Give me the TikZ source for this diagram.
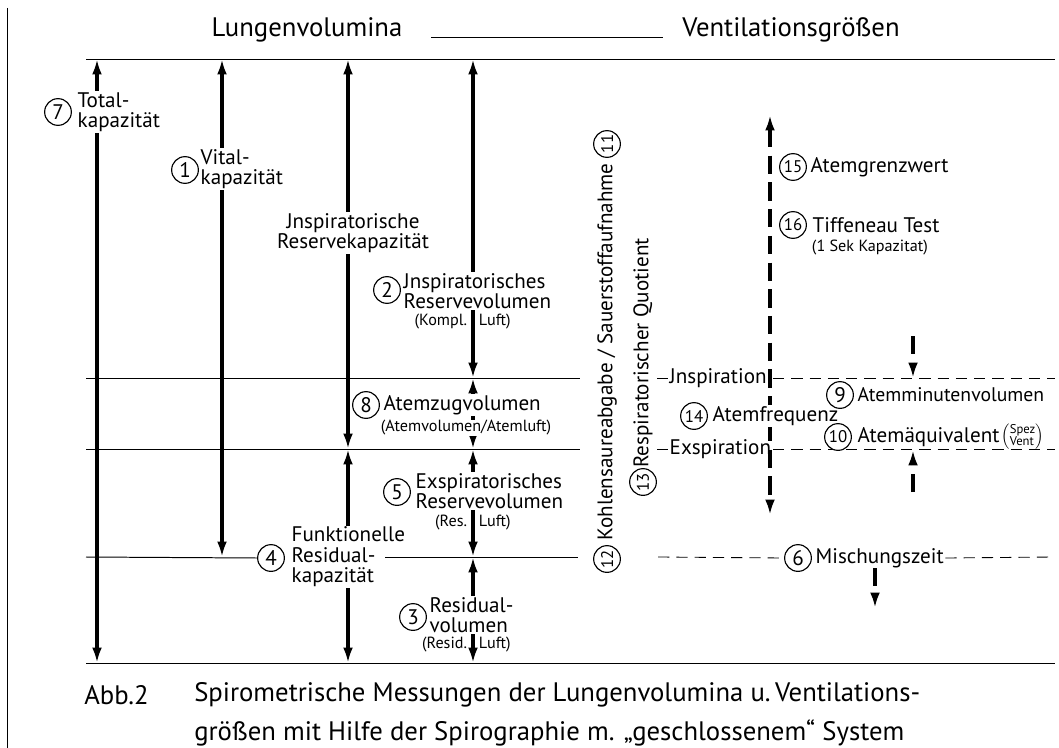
\documentclass[tikz,border=0pt]{standalone}
\usepackage{fontspec}
\setmainfont{PT Sans}
\usetikzlibrary{arrows.meta}

\newcommand\hdfont{\fontsize{19}{21}\selectfont}
\newcommand\lblfont{\fontsize{15}{14.5}\selectfont}
\newcommand\lblsmall{\fontsize{11.5}{12}\selectfont}
\newcommand\capfont{\fontsize{19}{21}\selectfont}

\tikzset{
  thinline/.style={line width=0.7pt},
  bigarrow/.style={line width=2.2pt, {Latex[length=11pt,width=7pt]}-{Latex[length=11pt,width=7pt]}},
  dasharrow/.style={line width=2.2pt, dash pattern=on 13pt off 6pt},
  thindash/.style={line width=0.6pt, dash pattern=on 8pt off 5pt},
  lab/.style={fill=white, inner sep=1pt, align=left, font=\lblfont},
  labsmall/.style={inner sep=0.5pt, font=\lblsmall},
  nr/.style={circle, draw, line width=0.8pt, fill=white, inner sep=0pt,
    minimum size=19pt, font=\fontsize{15}{15}\selectfont},
  nrtwo/.style={nr, font=\fontsize{12}{12}\selectfont}
}

\begin{document}
\begin{tikzpicture}[x=0.025cm, y=-0.025cm]
\useasboundingbox (0,0) rectangle (1059,748);

% Draw frame and headings.
\coordinate (frame-t) at (7,8);
\coordinate (frame-b) at (7,748);
\draw[thinline] (frame-t) -- (frame-b);
\node[font=\hdfont] (hvol) at (307,30) {Lungenvolumina};
\node[font=\hdfont] (hvent) at (791,30) {Ventilationsgrößen};
\draw[thinline] ([xshift=17pt,yshift=-5pt]hvol.east) -- ([xshift=-10pt,yshift=-5pt]hvent.west);

% Draw volume levels.
\foreach \n/\y/\r in {top/59/1055, insp/378/580, exsp/449/580, bot/663/1055}
{
    \coordinate (\n-l) at (86,\y);
    \coordinate (\n-r) at (\r,\y);
    \draw[thinline] (\n-l) -- (\n-r);
}

% Draw volume arrows.
\foreach \n/\x/\a/\b in {tot/97/59/663, vit/222/59/557, irk/348/59/449, frk/348/449/663,
                         irv/473/59/378, tv/473/378/449, erv/473/449/557, rv/473/557/663}
{
    \coordinate (\n-t) at (\x,\a);
    \coordinate (\n-b) at (\x,\b);
    \draw[bigarrow] (\n-t) -- (\n-b);
}

% Labels of the volumes.
\node[lab, anchor=west] (l7) at (76,112) {Total-\\kapazität};
\node[nr] (n7) at (58,112) {7};
\node[lab, anchor=west] (l1) at (199,169) {Vital-\\kapazität};
\node[nr] (n1) at (185,170) {1};
\node[lab, align=center] (lirk) at (353,233) {Jnspiratorische\\Reservekapazität};
\node[lab, anchor=west] (l2) at (402,291) {Jnspiratorisches\\Reservevolumen};
\node[nr] (n2) at (387,290) {2};
\node[labsmall, anchor=east] (l2a) at (468,322) {(Kompl.};
\node[labsmall, anchor=west] (l2b) at (478,322) {Luft)};
\node[lab, anchor=west] (l8) at (382,405) {Atemzugvolumen};
\node[nr] (n8) at (366,405) {8};
\node[labsmall, fill=white] (l8a) at (466,428) {(Atemvolumen/Atemluft)};
\node[lab, anchor=west] (l5) at (414,491) {Exspiratorisches\\Reservevolumen};
\node[nr] (n5) at (397,492) {5};
\node[labsmall, anchor=east] (l5a) at (468,523) {(Res.};
\node[labsmall, anchor=west] (l5b) at (478,523) {Luft)};
\node[lab, anchor=west] (l4) at (290,557) {Funktionelle\\Residual-\\kapazität};
\node[nr] (n4) at (271,558) {4};
\node[lab, anchor=west] (l3) at (428,615) {Residual-\\volumen};
\node[nr] (n3) at (413,617) {3};
\node[labsmall, anchor=east] (l3a) at (468,645) {(Resid.};
\node[labsmall, anchor=west] (l3b) at (478,645) {Luft)};

% Level of the functional residual capacity, broken by its label.
\coordinate (frc-l) at (86,557);
\coordinate (frc-m) at (385,557);
\coordinate (frc-r) at (578,557);
\draw[thinline] (frc-l) -- (n4.west);
\draw[thinline] (frc-m) -- (frc-r);

% Rotated labels of the gas exchange.
\node[lab, rotate=90] (co2) at (607,352) {Kohlensaureabgabe / Sauerstoffaufnahme};
\node[nrtwo, rotate=90] (n12) at (607,559) {12};
\node[nrtwo, rotate=90] (n11) at (607,144) {11};
\node[lab, rotate=90] (rq) at (643,353) {Respiratorischer Quotient};
\node[nrtwo, rotate=90] (n13) at (643,482) {13};

% Draw ventilation part.
\coordinate (vent-t) at (770,115);
\coordinate (vent-b) at (770,515);
\draw[dasharrow, {Latex[length=11pt,width=7pt]}-{Latex[length=11pt,width=7pt]}] (vent-t) -- (vent-b);
\foreach \n/\y in {insp/378, exsp/449}
{
    \coordinate (\n-vl) at (773,\y);
    \coordinate (\n-vr) at (1055,\y);
    \draw[thindash] (\n-vl) -- (\n-vr);
}
\node[lab, anchor=west, fill=none] (linsp) at (668,378) {Jnspiration};
\node[lab, anchor=west, fill=none] (lexsp) at (668,449) {Exspiration};
\coordinate (insp-tick) at (657,378);
\coordinate (exsp-tick) at (657,449);
\draw[thinline] (insp-tick) -- (linsp.west);
\draw[thinline] (exsp-tick) -- (lexsp.west);

\node[lab, anchor=west] (l15) at (809,167) {Atemgrenzwert};
\node[nrtwo] (n15) at (793,167) {15};
\node[lab, anchor=west] (l16) at (811,225) {Tiffeneau Test};
\node[nrtwo] (n16) at (793,225) {16};
\node[labsmall, anchor=west] (l16a) at (811,248) {(1 Sek Kapazitat)};
\node[lab, anchor=west] (l14) at (711,416) {Atemfrequenz};
\node[nrtwo] (n14) at (694,416) {14};
\node[lab, anchor=west, font=\fontsize{14}{14}\selectfont] (l9) at (856,395) {Atemminutenvolumen};
\node[nr] (n9) at (840,395) {9};
\node[lab, anchor=west] (l10) at (856,437) {Atemäquivalent};
\node[nrtwo] (n10) at (838,437) {10};
\node[inner sep=0pt, anchor=west] (l10a) at (l10.east)
  {$\left(\vcenter{\hbox{\fontsize{9}{8}\selectfont\begin{tabular}{@{}l@{}}Spez\\Vent\end{tabular}}}\right)$};

% Small arrows to the minute volume.
\coordinate (amv-t) at (913,336);
\coordinate (amv-b) at (913,378);
\coordinate (aeq-t) at (913,492);
\coordinate (aeq-b) at (913,450);
\draw[dasharrow, -{Latex[length=11pt,width=7pt]}] (amv-t) -- (amv-b);
\draw[dasharrow, -{Latex[length=11pt,width=7pt]}] (aeq-t) -- (aeq-b);

% Mixing time.
\node[lab, anchor=west] (lmix) at (814,558) {Mischungszeit};
\node[nr] (n6) at (798,558) {6};
\coordinate (mix-l) at (658,557);
\coordinate (mix-r) at (1055,557);
\draw[thindash] (mix-l) -- (n6.west);
\draw[thindash] (lmix.east) -- (mix-r);
\coordinate (mix-t) at (875,568);
\coordinate (mix-b) at (875,608);
\draw[dasharrow, -{Latex[length=11pt,width=7pt]}] (mix-t) -- (mix-b);

% Caption.
\node[anchor=west, font=\capfont, inner sep=0pt] (cabb) at (84,695) {Abb.2};
\node[anchor=west, font=\capfont, inner sep=0pt] (cap1) at (194,695)
  {Spirometrische Messungen der Lungenvolumina u.\,Ventilations-};
\node[anchor=west, font=\capfont, inner sep=0pt] (cap2) at (194,733)
  {größen mit Hilfe der Spirographie m. „geschlossenem“ System};

\end{tikzpicture}
\end{document}
